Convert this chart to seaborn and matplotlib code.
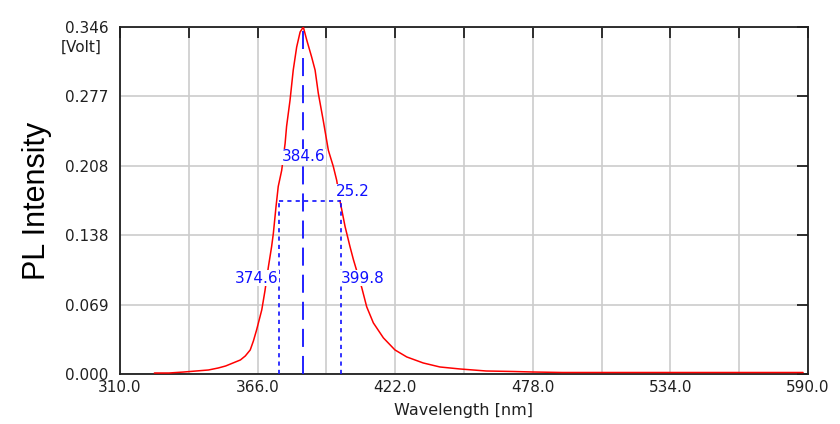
import matplotlib
matplotlib.use("Agg")
import matplotlib.pyplot as plt
import matplotlib.transforms as mtransforms
import seaborn as sns
import pandas as pd

# ---- data ----
wavelength_nm = [324, 330, 336, 341, 346, 350, 353, 355, 357, 359, 361, 363,
                 364.3, 365.6, 367.7, 369.0, 370.4, 371.7, 372.4, 373.5, 374.4,
                 375.8, 377.2, 377.8, 379.2, 380.5, 381.9, 383.3, 384.6, 386.0,
                 388.0, 389.4, 390.7, 392.7, 394.8, 396.8, 398.2, 399.5, 401.6,
                 403.6, 405.0, 408.4, 410.4, 413.1, 417.2, 421.9, 426.7, 433.4,
                 440.2, 448.4, 459, 470, 478, 490, 505, 520, 535, 550, 565, 580, 588]
pl_intensity_volt = [0.001, 0.001, 0.002, 0.003, 0.004, 0.006, 0.008, 0.010,
                     0.012, 0.014, 0.018, 0.024, 0.033, 0.044, 0.064, 0.083,
                     0.107, 0.127, 0.140, 0.167, 0.187, 0.203, 0.230, 0.247,
                     0.273, 0.303, 0.326, 0.341, 0.346, 0.333, 0.316, 0.303,
                     0.280, 0.253, 0.223, 0.207, 0.193, 0.173, 0.147, 0.127,
                     0.114, 0.086, 0.067, 0.051, 0.036, 0.024, 0.017, 0.011,
                     0.007, 0.005, 0.003, 0.0025, 0.002, 0.0015, 0.0015, 0.0015,
                     0.0015, 0.0015, 0.0015, 0.0015, 0.0015]

peak_nm = 384.6
peak_value = 0.346
half_max = 0.173
fwhm_left_nm = 374.6
fwhm_right_nm = 399.8
fwhm_nm = 25.2

x_ticks = [310, 338, 366, 394, 422, 450, 478, 506, 534, 562, 590]
x_tick_labels = ["310.0", "", "366.0", "", "422.0", "", "478.0", "", "534.0", "", "590.0"]
y_ticks = [0.0, 0.0692, 0.1384, 0.2076, 0.2768, 0.346]
y_tick_labels = ["0.000", "0.069", "0.138", "0.208", "0.277", "0.346"]

# ---- style ----
sns.set_style("white")
plt.rcParams['font.family'] = ['DejaVu Sans']

fig = plt.figure(figsize=(8.4, 4.24), dpi=100)
ax = fig.add_axes([120 / 840, 50 / 424, 688 / 840, 347 / 424])

df = pd.DataFrame({"Wavelength": wavelength_nm, "Intensity": pl_intensity_volt})
sns.lineplot(data=df, x="Wavelength", y="Intensity", color="#ff0000",
             linewidth=1.1, ax=ax, zorder=3)

ax.set_xlim(x_ticks[0], x_ticks[-1])
ax.set_ylim(y_ticks[0], y_ticks[-1])
ax.set_xticks(x_ticks)
ax.set_xticklabels(x_tick_labels)
ax.set_yticks(y_ticks)
ax.set_yticklabels(y_tick_labels)

ax.grid(True, color="#cccccc", linewidth=1.2)
ax.set_axisbelow(True)
ax.tick_params(direction="in", length=8, width=1.3, color="#202020",
               top=True, right=True, labelsize=11, labelcolor="#202020")
ax.tick_params(axis="y", pad=8.5)
ax.tick_params(axis="x", pad=4)
for s in ax.spines.values():
    s.set_color("#202020")
    s.set_linewidth(1.3)
    s.set_visible(True)

blue = "#1010ff"
# FWHM markers
ax.vlines(peak_nm, 0, peak_value, color=blue, linewidth=1.3,
          linestyles=[(0, (10, 5))], zorder=4)
ax.hlines(half_max, fwhm_left_nm, fwhm_right_nm, color=blue, linewidth=1.2,
          linestyles=[(0, (2.5, 2.5))], zorder=4)
ax.vlines([fwhm_left_nm, fwhm_right_nm], 0, half_max, color=blue, linewidth=1.2,
          linestyles=[(0, (2.5, 2.5))], zorder=4)

box = dict(facecolor="white", edgecolor="none", pad=0.5)
ax.text(peak_nm, 0.2164, f"{peak_nm:.1f}", color=blue, fontsize=11,
        ha="center", va="center", bbox=box, zorder=5)
ax.text(397.9, 0.1815, f"{fwhm_nm:.1f}", color=blue, fontsize=11,
        ha="left", va="center", bbox=box, zorder=5)
ax.text(fwhm_left_nm, 0.0957, f"{fwhm_left_nm:.1f}", color=blue, fontsize=11,
        ha="right", va="center", bbox=box, zorder=5)
ax.text(fwhm_right_nm, 0.0957, f"{fwhm_right_nm:.1f}", color=blue, fontsize=11,
        ha="left", va="center", bbox=box, zorder=5)

trans = mtransforms.blended_transform_factory(ax.transAxes, ax.transData)
ax.text(-0.026, 0.326, "[Volt]", transform=trans, ha="right", va="center",
        fontsize=11, color="#202020")

ax.set_xlabel("Wavelength [nm]", fontsize=11.5, color="#202020", labelpad=6)
ax.set_ylabel("PL Intensity", fontsize=22, family=["Liberation Sans"], color="black")
ax.yaxis.set_label_coords(-0.099, 0.5)

fig.savefig("out.png", dpi=100)
